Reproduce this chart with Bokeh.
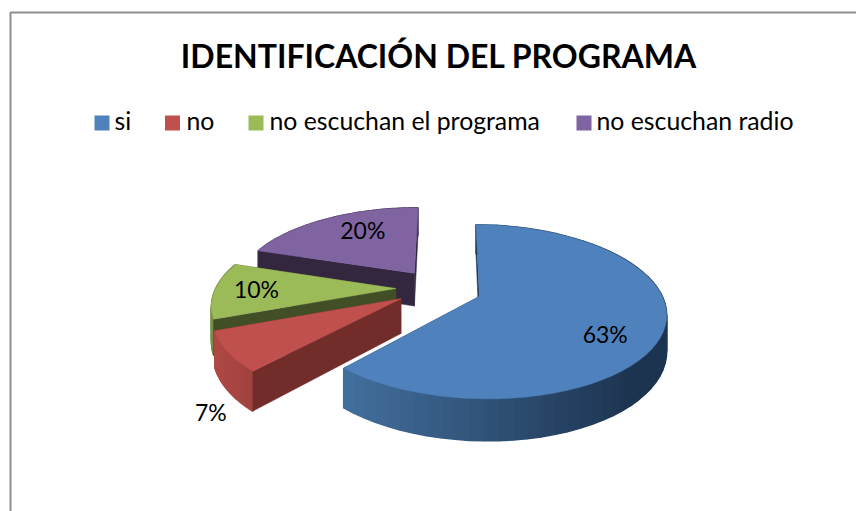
import numpy as np
from bokeh.plotting import figure
from bokeh.models import Range1d
from bokeh.core.properties import value
from bokeh.embed import file_html
from bokeh.resources import INLINE

title_text = "IDENTIFICACIÓN DEL PROGRAMA"
categories = ["si", "no", "no escuchan el programa", "no escuchan radio"]
shares = [63, 7, 10, 20]
share_labels = ["63%", "7%", "10%", "20%"]

top_colors = ["#4F81BD", "#C0504D", "#9BBB59", "#8064A2"]
cut_colors = ["#1d3450", "#722d2b", "#424f26", "#33263f"]
rim_light = [(68, 113, 160), (176, 74, 71), (120, 145, 70), (95, 75, 120)]
rim_dark = [(29, 52, 80), (160, 66, 63), (100, 120, 55), (70, 55, 90)]

# view of the tilted pie, in page pixels
CX, CY, RX, RY, TILT, DEPTH, EXPLODE = 438.5, 288.0, 180.0, 81.6, 0.1736, 34.0, 0.24
boundary_warp = [1.0, -4.5, -2.7, 0.0, 0.0]
label_r = [0.755, 1.35, 0.77, 0.68]
label_angle = [-35.0, -126.0, -178.0, 120.0]


def project(X, Y, z=0.0):
    X, Y = np.asarray(X, float), np.asarray(Y, float)
    w = 1 + TILT * Y
    return CX + RX * X / w, CY - RY * Y / w + z * DEPTH / w


p = figure(width=856, height=511, output_backend="svg", toolbar_location=None,
           x_range=Range1d(0, 856), y_range=Range1d(511, 0), min_border=0)
p.xaxis.visible = False
p.yaxis.visible = False
p.grid.visible = False
p.outline_line_color = None
p.background_fill_color = "white"
p.border_fill_color = "white"


def poly(xs, ys, color, lw=0.5):
    p.patch(list(xs), list(ys), fill_color=color, line_color=color, line_width=lw)


# chart frame
p.line([10, 10, 856], [511, 12, 12], line_color="#8e8e8e", line_width=2)

edges = np.cumsum([0] + shares) / 100 * 360.0
drawn = edges + np.array(boundary_warp)
slices = []
for i in range(len(shares)):
    a0, a1 = 90 - drawn[i], 90 - drawn[i + 1]
    mid = np.radians(90 - (edges[i] + edges[i + 1]) / 2)
    ox, oy = EXPLODE * np.cos(mid), EXPLODE * np.sin(mid)
    slices.append((a0, a1, ox, oy))

for i in [3, 2, 1, 0]:
    a0, a1, ox, oy = slices[i]
    th = np.radians(np.linspace(a0, a1, 60))
    X, Y = ox + np.cos(th), oy + np.sin(th)

    def cut(a):
        r = np.radians(a)
        ax, ay = project(ox, oy)
        bx, by = project(ox + np.cos(r), oy + np.sin(r))
        cx, cy = project(ox + np.cos(r), oy + np.sin(r), 1)
        dx, dy = project(ox, oy, 1)
        poly([ax, bx, cx, dx], [ay, by, cy, dy], cut_colors[i])

    # far cut face, then the rim, then the near cut face
    cut(a1)
    tx, ty = project(X, Y)
    bx, by = project(X, Y, 1)
    xmin, xmax = (342, 640) if i == 0 else (tx.min(), tx.max())
    for k in range(len(th) - 1):
        f = np.clip((tx[k] - xmin) / (xmax - xmin), 0, 1)
        c = [int(rim_light[i][n] + f * (rim_dark[i][n] - rim_light[i][n])) for n in range(3)]
        poly([tx[k], tx[k + 1], bx[k + 1], bx[k]], [ty[k], ty[k + 1], by[k + 1], by[k]],
             "#%02x%02x%02x" % tuple(c), lw=1.5)
    cut(a0)
    ax, ay = project(ox, oy)
    poly(np.r_[ax, tx], np.r_[ay, ty], top_colors[i])

# share labels
for i, lab in enumerate(share_labels):
    a0, a1, ox, oy = slices[i]
    r = np.radians(label_angle[i])
    lx, ly = project(ox + label_r[i] * np.cos(r), oy + label_r[i] * np.sin(r))
    p.text([float(lx)], [float(ly) - 2], text=[lab], text_font=value("Lato"), text_font_size="23px",
           text_color="#000000", text_align="center", text_baseline="middle")

# title
p.text([438.5], [55], text=[title_text], text_font=value("Lato"), text_font_size="32px",
       text_font_style="bold", text_color="#000000", text_align="center", text_baseline="middle")

# legend
swatch_x = [101.5, 172, 255.5, 583.5]
text_x = [114, 186, 269, 596]
for i, name in enumerate(categories):
    p.rect([swatch_x[i]], [122.5], width=15, height=15, fill_color=top_colors[i], line_color=None)
    p.text([text_x[i]], [120], text=[name], text_font=value("Lato"), text_font_size="24.8px",
           text_color="#000000", text_align="left", text_baseline="middle")

open("out.html", "w").write(file_html(p, INLINE))
